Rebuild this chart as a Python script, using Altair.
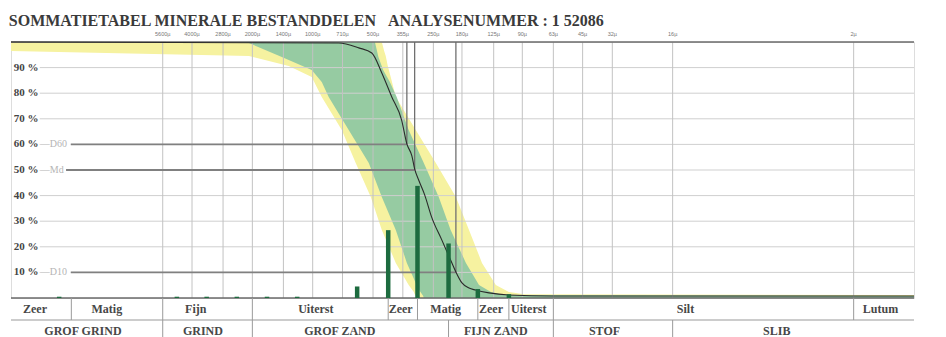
import altair as alt
import pandas as pd

# ---------------- data (grain size in micrometre, percentage passing) ----------------
title_text = "SOMMATIETABEL MINERALE BESTANDDELEN\u00a0\u00a0\u00a0ANALYSENUMMER : 1 52086"

tick_um = [5600, 4000, 2800, 2000, 1400, 1000, 710, 500, 355, 250, 180, 125, 90, 63, 45, 32, 16, 2]
tick_labels = [f"{v}µ" for v in tick_um]

pct_levels = [90, 80, 70, 60, 50, 40, 30, 20, 10]
pct_labels = ["90 %", "80 %", "70 %", "60 %", "50 %", "40 %", "30 %", "20 %", "10 %"]
grid_start = [23000, 23000, 23000, 16100, 17000, 23000, 23000, 23000, 16100]

# outer (yellow) envelope: coarse edge / fine edge at each percentage
yellow_pct = [100, 96.5, 94.5, 90.6, 86.3, 78.5, 65.6, 52.7, 39.5, 26.6, 13.7, 5.1, 2.3, 1.5, 1.2, 0]
yellow_coarse = [32000, 32000, 2080, 1316, 1011, 901, 716, 610, 513, 452, 385, 332, 313, 310, 308, 300]
yellow_fine = [452, 440, 432, 422, 408, 385, 306, 243, 193, 166, 143, 122, 105, 88, 1, 1]

# inner (green) envelope
green_pct = [100, 99.6, 94.1, 89.1, 84.4, 78.5, 65.6, 52.7, 39.5, 26.6, 13.7, 5.1, 2.3, 1.2, 0.8, 0]
green_coarse = [2300, 2080, 1426, 1011, 901, 832, 661, 525, 452, 385, 339, 303, 290, 283, 281, 279]
green_fine = [490, 488, 470, 445, 412, 381, 332, 279, 235, 205, 172, 148, 129, 111, 1, 1]

# cumulative curve of the sample
curve_um = [32000, 741, 589, 507, 452, 403, 360, 339, 320, 310, 296, 276, 255, 227, 202, 193, 180, 166, 154, 132, 105, 63, 1]
curve_pct = [100, 99.6, 97.7, 95.7, 87.9, 78.5, 69.5, 60.2, 55.5, 50.4, 46.1, 40.2, 31.6, 22.7, 13.7, 10.2, 5.9, 3.9, 3.1, 2.0, 1.2, 0.8, 0.8]

# fractions per sieve (bars)
bar_um = [18400, 4760, 3380, 2390, 1690, 1195, 600, 420, 300, 210, 150, 105]
bar_pct = [0.5, 0.5, 0.5, 0.5, 0.5, 0.5, 4.5, 26.5, 43.8, 21.3, 3.5, 1.5]

# characteristic values
d_names = ["\u2014D60", "\u2014Md", "\u2014D10"]
d_levels = [60, 50, 10]
d_um = [339, 310, 193]
d_start = [16100, 17000, 16100]

# classification table below the chart
row1_sep = [16000, 5600, 2000, 420, 300, 150, 105, 63, 2]
row2_sep = [5600, 2000, 210, 63, 16]
row1_labels = ["Zeer", "Matig", "Fijn", "Uiterst", "Zeer", "Matig", "Zeer", "Uiterst", "Silt", "Lutum"]
row1_pos = [24300, 10640, 3830, 965, 364, 217, 129, 83.6, 13.8, 1.47]
row2_labels = ["GROF GRIND", "GRIND", "GROF ZAND", "FIJN ZAND", "STOF", "SLIB"]
row2_pos = [14000, 3530, 732, 122, 35, 4.84]
row_bottom = [0, -8.6, -17]

YELLOW = "#f6f2a0"
GREEN = "#96cba2"
BAR = "#1d6b3f"
SERIF = "Liberation Serif"

xs = alt.Scale(type="log", domain=[1, 32000], reverse=True, nice=False)
ys = alt.Scale(domain=[0, 100], nice=False, zero=False)


def X(f):
    return alt.X(f, type="quantitative", scale=xs, axis=None)


def Y(f):
    return alt.Y(f, type="quantitative", scale=ys, axis=None)


yellow = alt.Chart(pd.DataFrame({"pct": yellow_pct, "lo": yellow_coarse, "hi": yellow_fine})).mark_area(
    orient="horizontal", color=YELLOW
).encode(y=Y("pct"), x=X("lo"), x2="hi")

green = alt.Chart(pd.DataFrame({"pct": green_pct, "lo": green_coarse, "hi": green_fine})).mark_area(
    orient="horizontal", color=GREEN
).encode(y=Y("pct"), x=X("lo"), x2="hi")

hgrid = alt.Chart(pd.DataFrame({"pct": pct_levels, "start": grid_start, "end": [1] * len(pct_levels)})).mark_rule(
    color="#cfcfcf", strokeWidth=1
).encode(y=Y("pct"), x=X("start"), x2="end")

tdf = pd.DataFrame({"d": tick_um, "txt": tick_labels, "y0": [0] * len(tick_um), "y1": [100] * len(tick_um),
                    "ylab": [103.3] * len(tick_um)})
vgrid = alt.Chart(tdf).mark_rule(color="#c2c2c2", strokeWidth=1).encode(x=X("d"), y=Y("y0"), y2="y1")
tick_txt = alt.Chart(tdf).mark_text(
    align="center", baseline="middle", font="Liberation Sans", fontSize=5.5, color="#777"
).encode(x=X("d"), y=Y("ylab"), text="txt:N")

ddf = pd.DataFrame({"lvl": d_levels, "d": d_um, "start": d_start, "top": [100] * 3, "name": d_names})
d_h = alt.Chart(ddf).mark_rule(color="#808080", strokeWidth=1.8).encode(y=Y("lvl"), x=X("start"), x2="d")
d_v = alt.Chart(ddf).mark_rule(color="#707070", strokeWidth=1.3).encode(x=X("d"), y=Y("lvl"), y2="top")
d_txt = alt.Chart(ddf.assign(pos=23000)).mark_text(
    align="left", baseline="middle", font=SERIF, fontSize=10, color="#b5b5b5"
).encode(x=X("pos"), y=Y("lvl"), text="name:N")

frame = alt.Chart(pd.DataFrame({"pct": [100, 0], "a": [32000, 32000], "b": [1, 1]})).mark_rule(
    color="#6a6a6a", strokeWidth=1.5
).encode(y=Y("pct"), x=X("a"), x2="b")

curve = alt.Chart(pd.DataFrame({"d": curve_um, "pct": curve_pct})).mark_line(
    color="#2a2a2a", strokeWidth=1.1, interpolate="monotone"
).encode(x=X("d"), y=Y("pct"))

bars = alt.Chart(pd.DataFrame({"d": bar_um, "pct": bar_pct, "base": [0] * len(bar_um)})).mark_rule(
    color=BAR, strokeWidth=4.5
).encode(x=X("d"), y=Y("base"), y2="pct")

ylab = alt.Chart(pd.DataFrame({"pct": pct_levels, "txt": pct_labels, "pos": [31000] * len(pct_levels)})).mark_text(
    align="left", baseline="middle", font=SERIF, fontSize=11, fontWeight="bold", color="#444"
).encode(x=X("pos"), y=Y("pct"), text="txt:N")

# table
row_line = alt.Chart(pd.DataFrame({"y": [row_bottom[1]], "a": [32000], "b": [1]})).mark_rule(
    color="#9a9a9a", strokeWidth=1.2
).encode(y=Y("y"), x=X("a"), x2="b")
sep1 = alt.Chart(pd.DataFrame({"d": row1_sep, "y0": [row_bottom[0]] * len(row1_sep), "y1": [row_bottom[1]] * len(row1_sep)})).mark_rule(
    color="#9a9a9a", strokeWidth=1
).encode(x=X("d"), y=Y("y0"), y2="y1")
sep2 = alt.Chart(pd.DataFrame({"d": row2_sep, "y0": [row_bottom[1]] * len(row2_sep), "y1": [row_bottom[2]] * len(row2_sep)})).mark_rule(
    color="#9a9a9a", strokeWidth=1
).encode(x=X("d"), y=Y("y0"), y2="y1")
lab1 = alt.Chart(pd.DataFrame({"d": row1_pos, "txt": row1_labels, "y": [-4.3] * len(row1_pos)})).mark_text(
    align="center", baseline="middle", font=SERIF, fontSize=12, fontWeight="bold", color="#474747"
).encode(x=X("d"), y=Y("y"), text="txt:N")
lab2 = alt.Chart(pd.DataFrame({"d": row2_pos, "txt": row2_labels, "y": [-12.9] * len(row2_pos)})).mark_text(
    align="center", baseline="middle", font=SERIF, fontSize=12, fontWeight="bold", color="#474747"
).encode(x=X("d"), y=Y("y"), text="txt:N")

chart = alt.layer(
    yellow, green, hgrid, vgrid, tick_txt, d_h, d_v, frame, curve, bars, ylab, d_txt,
    row_line, sep1, sep2, lab1, lab2,
).properties(
    width=903,
    height=256,
    padding={"left": 3, "top": 34, "right": 20, "bottom": 45},
    autosize=alt.AutoSizeParams(type="none"),
    title=alt.TitleParams(
        text=title_text, anchor="start", font=SERIF, fontSize=16, fontWeight="bold",
        color="#3a3a3a", offset=3,
    ),
).configure_view(stroke=None).configure(background="white")

chart.save("out.html", embed_options={"renderer": "svg", "actions": False})
